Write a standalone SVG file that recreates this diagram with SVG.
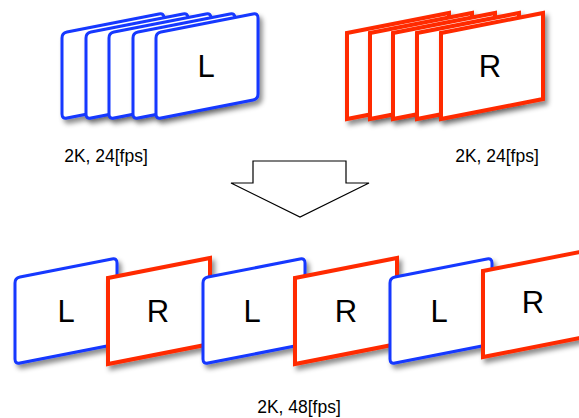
<svg xmlns="http://www.w3.org/2000/svg" xmlns:xlink="http://www.w3.org/1999/xlink" width="579" height="418" viewBox="0 0 579 418">
  <style>
    .blue { fill: #ffffff; stroke: #1438ff; stroke-width: 3; stroke-linejoin: round; }
    .red { fill: #ffffff; stroke: #ff2a00; stroke-width: 4; stroke-linejoin: miter; }
    .big { font-family: "Liberation Sans", Arial, sans-serif; font-size: 31px; fill: #000; text-anchor: middle; }
    .lbl { font-family: "Liberation Sans", Arial, sans-serif; font-size: 17.5px; fill: #000; text-anchor: middle; }
    .arrow { fill: #ffffff; stroke: #000; stroke-width: 1.2; }
  </style>
  <defs>
    <filter id="sh" x="-20%" y="-20%" width="150%" height="150%">
      <feDropShadow dx="3" dy="4" stdDeviation="2.5" flood-color="#000" flood-opacity="0.45"/>
    </filter>
    <path id="bf" class="blue" d="M0,5 Q0,0 5,-1 L97,-19 Q102,-20 102,-15 L102,61 Q102,66 97,67 L5,85 Q0,86 0,81 Z"/>
    <polygon id="rf" class="red" points="0,0 102,-20 102,66 0,86"/>
  </defs>

  <g id="left-stack">
    <use xlink:href="#bf" href="#bf" transform="translate(62,33)" filter="url(#sh)"/>
    <use xlink:href="#bf" href="#bf" transform="translate(86,33)" filter="url(#sh)"/>
    <use xlink:href="#bf" href="#bf" transform="translate(109,33)" filter="url(#sh)"/>
    <use xlink:href="#bf" href="#bf" transform="translate(133,33)" filter="url(#sh)"/>
    <use xlink:href="#bf" href="#bf" transform="translate(156,33)" filter="url(#sh)"/>
    <text class="big" x="206" y="77">L</text>
  </g>

  <g id="right-stack">
    <use xlink:href="#rf" href="#rf" transform="translate(347,33)" filter="url(#sh)"/>
    <use xlink:href="#rf" href="#rf" transform="translate(370,33)" filter="url(#sh)"/>
    <use xlink:href="#rf" href="#rf" transform="translate(393,33)" filter="url(#sh)"/>
    <use xlink:href="#rf" href="#rf" transform="translate(417,33)" filter="url(#sh)"/>
    <use xlink:href="#rf" href="#rf" transform="translate(441,33)" filter="url(#sh)"/>
    <text class="big" x="490" y="77">R</text>
  </g>

  <g id="label-left"><text class="lbl" x="106" y="162">2K, 24[fps]</text></g>
  <g id="label-right"><text class="lbl" x="497" y="162">2K, 24[fps]</text></g>

  <g id="connectors">
    <polygon class="arrow" points="253,161 346,161 346,183 369,183 300,217 231,183 253,183"/>
  </g>

  <g id="frame-1">
    <use xlink:href="#bf" href="#bf" transform="translate(15,278)" filter="url(#sh)"/>
    <text class="big" x="66" y="322">L</text>
  </g>
  <g id="frame-2">
    <use xlink:href="#rf" href="#rf" transform="translate(108,278)" filter="url(#sh)"/>
    <text class="big" x="158" y="322">R</text>
  </g>
  <g id="frame-3">
    <use xlink:href="#bf" href="#bf" transform="translate(203,278)" filter="url(#sh)"/>
    <text class="big" x="252" y="322">L</text>
  </g>
  <g id="frame-4">
    <use xlink:href="#rf" href="#rf" transform="translate(295,278)" filter="url(#sh)"/>
    <text class="big" x="346" y="322">R</text>
  </g>
  <g id="frame-5">
    <use xlink:href="#bf" href="#bf" transform="translate(390,278)" filter="url(#sh)"/>
    <text class="big" x="439" y="322">L</text>
  </g>
  <g id="frame-6">
    <use xlink:href="#rf" href="#rf" transform="translate(483,271)" filter="url(#sh)"/>
    <text class="big" x="533" y="313">R</text>
  </g>

  <g id="label-bottom"><text class="lbl" x="299" y="413">2K, 48[fps]</text></g>
</svg>
